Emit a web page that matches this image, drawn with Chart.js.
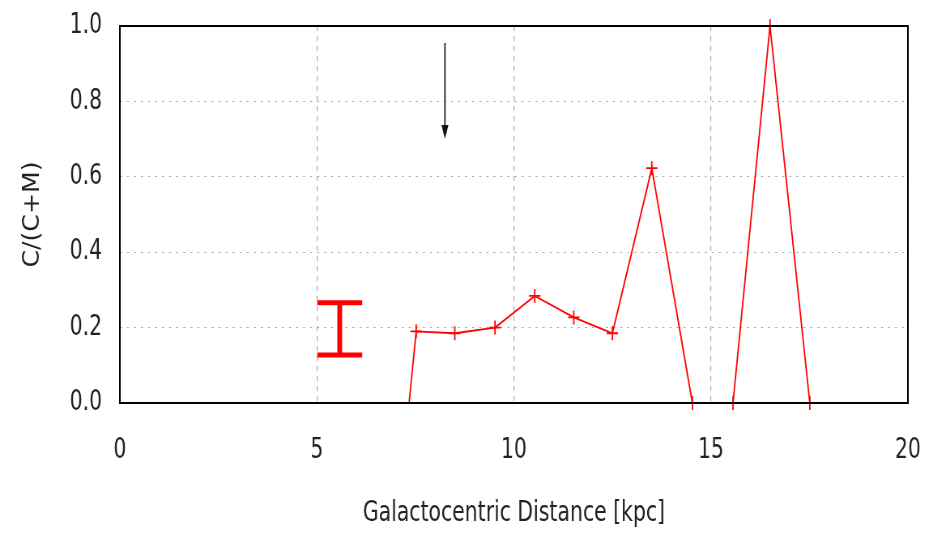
<!DOCTYPE html>
<html>
<head>
<meta charset="utf-8">
<script src="https://cdn.jsdelivr.net/npm/chart.js@4"></script>
<style>
  html, body { margin: 0; background: #fff; overflow: hidden; }
  /* the original text is very narrow, so the whole chart is drawn wider and squeezed */
  #wrap { width: 1152px; height: 534px; position: relative; transform: scaleX(0.8099); transform-origin: 0 0; }
</style>
</head>
<body>
<div id="wrap"><canvas id="chart"></canvas></div>
<script>
// galactocentric distance (kpc) and C/(C+M) ratio
const distance = [7.34, 7.52, 8.5, 9.52, 10.53, 11.52, 12.5, 13.5, 14.53, 15.56, 16.5, 17.51];
const ratio = [0, 0.19, 0.185, 0.2, 0.284, 0.227, 0.185, 0.623, 0, 0, 1.0, 0];
const hasMarker = [false, true, true, true, true, true, true, true, true, true, true, true];

// representative error bar
const errX = 5.58;
const errLow = 0.127;
const errHigh = 0.266;
const errCap = 0.57;

// solar position arrow
const arrowX = 8.25;
const arrowFrom = 0.955;
const arrowTo = 0.70;

const xTicks = [0, 5, 10, 15, 20];
const yTicks = [0, 0.2, 0.4, 0.6, 0.8, 1.0];

const FONT = '"Liberation Sans Narrow", "DejaVu Sans Condensed", sans-serif';
const TEXT_COLOR = "#222";
const GRID_COLOR = "#a8a8a8";

const extras = {
    id: "extras",
    afterDatasetsDraw(chart) {
        const { ctx, chartArea: a, scales: { x, y } } = chart;
        ctx.save();

        // error bar
        ctx.strokeStyle = "#ff0000";
        const ex = x.getPixelForValue(errX);
        const yl = y.getPixelForValue(errLow);
        const yh = y.getPixelForValue(errHigh);
        const c0 = x.getPixelForValue(errX - errCap);
        const c1 = x.getPixelForValue(errX + errCap);
        ctx.lineWidth = 6;
        ctx.beginPath();
        ctx.moveTo(ex, yl); ctx.lineTo(ex, yh);
        ctx.stroke();
        ctx.lineWidth = 5;
        ctx.beginPath();
        ctx.moveTo(c0, yl); ctx.lineTo(c1, yl);
        ctx.moveTo(c0, yh); ctx.lineTo(c1, yh);
        ctx.stroke();

        // arrow
        const ax = x.getPixelForValue(arrowX);
        const a0 = y.getPixelForValue(arrowFrom);
        const a1 = y.getPixelForValue(arrowTo);
        ctx.strokeStyle = "#222";
        ctx.fillStyle = "#111";
        ctx.lineWidth = 1.8;
        ctx.beginPath();
        ctx.moveTo(ax, a0); ctx.lineTo(ax, a1 - 8);
        ctx.stroke();
        ctx.beginPath();
        ctx.moveTo(ax - 4.3, a1 - 14);
        ctx.lineTo(ax + 4.3, a1 - 14);
        ctx.lineTo(ax, a1);
        ctx.closePath();
        ctx.fill();

        // plot frame
        ctx.strokeStyle = "#000";
        ctx.lineWidth = 2;
        ctx.strokeRect(a.left, a.top, a.right - a.left, a.bottom - a.top);
        ctx.restore();
    },
};

new Chart(document.getElementById("chart"), {
    type: "line",
    data: {
        datasets: [{
            data: distance.map((d, i) => ({ x: d, y: ratio[i] })),
            borderColor: "#ff0000",
            borderWidth: 1.8,
            tension: 0,
            fill: false,
            pointStyle: "cross",
            pointRadius: hasMarker.map((m) => (m ? 7 : 0)),
            pointBorderColor: "#ff0000",
            pointBorderWidth: 1.8,
            clip: false,
        }],
    },
    options: {
        responsive: true,
        maintainAspectRatio: false,
        animation: false,
        layout: { padding: { left: 0, right: 31, top: 26, bottom: 0 } },
        plugins: {
            legend: { display: false },
            tooltip: { enabled: false },
        },
        scales: {
            x: {
                type: "linear",
                min: 0,
                max: 20,
                afterBuildTicks: (s) => { s.ticks = xTicks.map((v) => ({ value: v })); },
                afterFit: (s) => { s.height = 131; },
                ticks: {
                    color: TEXT_COLOR,
                    padding: 0,
                    font: { family: FONT, size: 28 },
                    callback: (v) => String(v),
                },
                grid: {
                    drawTicks: true,
                    tickLength: 31,
                    tickColor: "transparent",
                    color: (c) => (c.tick && (c.tick.value === 0 || c.tick.value === 20) ? "transparent" : GRID_COLOR),
                    lineWidth: 1.2,
                },
                border: { display: false, dash: [5, 5] },
                title: {
                    display: true,
                    text: "Galactocentric Distance [kpc]",
                    color: TEXT_COLOR,
                    font: { family: FONT, size: 28 },
                    padding: { top: 0, bottom: 3 },
                },
            },
            y: {
                type: "linear",
                min: 0,
                max: 1,
                afterBuildTicks: (s) => { s.ticks = yTicks.map((v) => ({ value: v })); },
                afterFit: (s) => { s.width = 148; },
                ticks: {
                    color: TEXT_COLOR,
                    padding: 0,
                    font: { family: FONT, size: 28 },
                    callback: (v) => Number(v).toFixed(1),
                },
                grid: {
                    drawTicks: true,
                    tickLength: 22,
                    tickColor: "transparent",
                    color: (c) => (c.tick && (c.tick.value === 0 || c.tick.value === 1) ? "transparent" : GRID_COLOR),
                    lineWidth: 1,
                },
                border: { display: false, dash: [2.5, 6.2] },
                title: {
                    display: true,
                    text: "C/(C+M)",
                    color: TEXT_COLOR,
                    font: { family: FONT, size: 28 },
                    padding: { top: 24, bottom: 0 },
                },
            },
        },
    },
    plugins: [extras],
});
</script>
</body>
</html>
